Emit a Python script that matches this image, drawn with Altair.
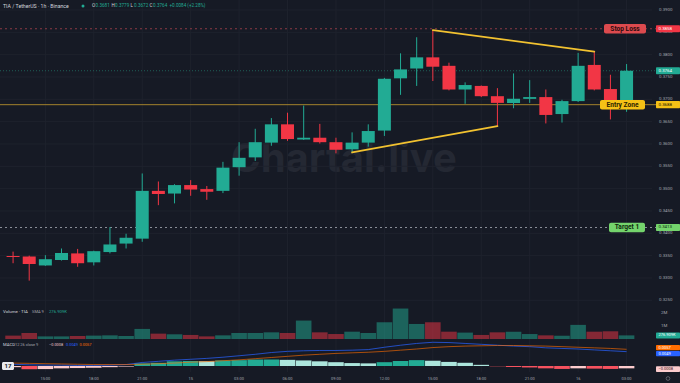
import altair as alt
import pandas as pd

# ---------------- data: TIA / TetherUS, 1h candles ----------------
hours = list(range(13, 24)) + list(range(0, 24)) + list(range(0, 4))
opens = [0.3349, 0.3348, 0.3328, 0.3340, 0.3355, 0.3335, 0.3358, 0.3377, 0.3388, 0.3495,
         0.3489, 0.3508, 0.3499, 0.3495, 0.3548, 0.3570, 0.3603, 0.3644, 0.3610, 0.3614,
         0.3604, 0.3588, 0.3603, 0.3630, 0.3747, 0.3769, 0.3794, 0.3775, 0.3722, 0.3730,
         0.3707, 0.3692, 0.3701, 0.3705, 0.3667, 0.3696, 0.3777, 0.3723, 0.3681]
highs = [0.3359, 0.3350, 0.3351, 0.3366, 0.3365, 0.3361, 0.3414, 0.3399, 0.3534, 0.3516,
         0.3510, 0.3519, 0.3506, 0.3560, 0.3604, 0.3634, 0.3658, 0.3670, 0.3686, 0.3645,
         0.3614, 0.3626, 0.3644, 0.3748, 0.3803, 0.3839, 0.3855, 0.3782, 0.3738, 0.3731,
         0.3725, 0.3758, 0.3743, 0.3722, 0.3699, 0.3804, 0.3807, 0.3755, 0.3779]
lows = [0.3333, 0.3294, 0.3327, 0.3339, 0.3325, 0.3328, 0.3355, 0.3366, 0.3381, 0.3463,
        0.3467, 0.3484, 0.3475, 0.3490, 0.3529, 0.3562, 0.3596, 0.3607, 0.3609, 0.3601,
        0.3579, 0.3581, 0.3594, 0.3618, 0.3710, 0.3730, 0.3741, 0.3720, 0.3690, 0.3705,
        0.3640, 0.3680, 0.3692, 0.3646, 0.3648, 0.3694, 0.3720, 0.3655, 0.3672]
closes = [0.3347, 0.3331, 0.3342, 0.3356, 0.3333, 0.3360, 0.3375, 0.3390, 0.3495, 0.3488,
          0.3508, 0.3498, 0.3493, 0.3547, 0.3569, 0.3604, 0.3644, 0.3611, 0.3614, 0.3604,
          0.3587, 0.3603, 0.3629, 0.3746, 0.3767, 0.3794, 0.3773, 0.3722, 0.3732, 0.3707,
          0.3692, 0.3701, 0.3705, 0.3665, 0.3696, 0.3775, 0.3722, 0.3680, 0.3764]
volumes = [260000, 460000, 200000, 200000, 230000, 260000, 280000, 230000, 770000, 410000,
           360000, 310000, 200000, 280000, 460000, 460000, 510000, 460000, 1410000, 510000,
           380000, 560000, 460000, 1280000, 2330000, 1150000, 1280000, 560000, 490000, 310000,
           510000, 560000, 380000, 280000, 250000, 1080000, 560000, 590000, 276909]
macd_line = [0.0006, 0.0004, 0.0003, 0.0003, 0.0002, 0.0002, 0.0003, 0.0005, 0.0012, 0.0016,
             0.0020, 0.0023, 0.0026, 0.0030, 0.0035, 0.0040, 0.0046, 0.0050, 0.0052, 0.0053,
             0.0053, 0.0054, 0.0056, 0.0064, 0.0071, 0.0077, 0.0081, 0.0080, 0.0077, 0.0074,
             0.0071, 0.0068, 0.0066, 0.0062, 0.0060, 0.0058, 0.0055, 0.0052, 0.0049]
signal_line = [0.0010, 0.0009, 0.0008, 0.0007, 0.0006, 0.0005, 0.0005, 0.0005, 0.0006, 0.0008,
               0.0010, 0.0013, 0.0015, 0.0018, 0.0021, 0.0025, 0.0029, 0.0033, 0.0037, 0.0040,
               0.0043, 0.0045, 0.0047, 0.0050, 0.0054, 0.0058, 0.0063, 0.0066, 0.0068, 0.0069,
               0.0070, 0.0070, 0.0069, 0.0068, 0.0066, 0.0064, 0.0062, 0.0060, 0.0057]
macd_hist = [-0.0004, -0.0011, -0.00105, -0.0008, -0.0007, -0.0006, -0.0004, -0.0002, 0.0009, 0.0011,
             0.0016, 0.0017, 0.00165, 0.0019, 0.0020, 0.0022, 0.00222, 0.0021, 0.0019, 0.0016,
             0.0013, 0.0010, 0.0009, 0.0013, 0.0017, 0.0020, 0.0018, 0.0014, 0.0011, 0.0004,
             -0.0001, -0.0003, -0.0005, -0.0008, -0.0010, -0.0008, -0.0009, -0.0010, -0.0008]

price_ticks = [0.3250, 0.3300, 0.3350, 0.3400, 0.3450, 0.3500, 0.3550, 0.3600,
               0.3650, 0.3700, 0.3750, 0.3800, 0.3850, 0.3900]
time_tick_idx = [2, 5, 8, 11, 14, 17, 20, 23, 26, 29, 32, 35, 38]
time_tick_labels = ["15:00", "18:00", "21:00", "15", "03:00", "06:00", "09:00",
                    "12:00", "15:00", "18:00", "21:00", "16", "03:00"]

stop_loss = 0.3858
entry_zone = 0.3688
target_1 = 0.3413
last_price = 0.3764

# wedge lines: (candle index, price) pairs
upper_line = [(26, 0.3855), (36, 0.3807)]
lower_line = [(21, 0.3581), (30, 0.3640)]

# ---------------- style ----------------
FONT = "Roboto"
BG = "#161a25"
GRID = "#1e222d"
UP = "#22ab94"
DOWN = "#f23645"
AX = "#a3a6af"
TXT = "#d1d4dc"
W, H = 680, 383

XS = alt.Scale(domain=[-0.5, 41.0], nice=False, zero=False)
PRICE = alt.Scale(domain=[0.325065, 0.392239], range=[300, 0], nice=False, zero=False)
VOL = alt.Scale(domain=[0, 2600000], range=[339, 305], nice=False, zero=False)
MACDS = alt.Scale(domain=[-0.00273, 0.00956], range=[374, 338], nice=False, zero=False)


def X(field="i"):
    return alt.X(f"{field}:Q", scale=XS, axis=None)


def Yp(field):
    return alt.Y(f"{field}:Q", scale=PRICE, axis=None)


n = len(opens)
candles = pd.DataFrame({
    "i": list(range(n)), "hour": hours, "open": opens, "high": highs,
    "low": lows, "close": closes, "volume": volumes,
})
candles["dir"] = ["up" if c >= o else "down" for o, c in zip(opens, closes)]
candles["body_lo"] = candles[["open", "close"]].min(axis=1)
candles["body_hi"] = candles[["open", "close"]].max(axis=1)

macd_df = pd.DataFrame({"i": list(range(n)), "macd": macd_line,
                        "signal": signal_line, "hist": macd_hist})
cats = []
for k, h in enumerate(macd_hist):
    prev = macd_hist[k - 1] if k > 0 else h
    if h >= 0:
        cats.append("pos_up" if h >= prev else "pos_dn")
    else:
        cats.append("neg_dn" if h < prev else "neg_up")
macd_df["cat"] = cats

DIR_COLOR = alt.Color("dir:N", scale=alt.Scale(domain=["up", "down"], range=[UP, DOWN]), legend=None)

ONE = pd.DataFrame({"k": [0]})


def txt(s, x, y, color, size, weight="normal", align="left", font=FONT, opacity=1.0):
    return alt.Chart(ONE).mark_text(
        text=s, align=align, baseline="middle", fontSize=size, fontWeight=weight,
        color=color, font=font, opacity=opacity,
    ).encode(x=alt.value(x), y=alt.value(y))


layers = []

# watermark
layers.append(txt("Chartal.live", 344, 160, "#242833", 40, weight="bold", align="center", font="Inter"))

# grid
vgrid = pd.DataFrame({"i": time_tick_idx})
layers.append(alt.Chart(vgrid).mark_rule(color=GRID, strokeWidth=1).encode(
    x=X(), y=alt.value(0), y2=alt.value(372)))
hgrid = pd.DataFrame({"p": price_ticks})
layers.append(alt.Chart(hgrid).mark_rule(color=GRID, strokeWidth=1).encode(
    y=Yp("p"), x=alt.value(0), x2=alt.value(652)))

# level lines
lv = lambda p: pd.DataFrame({"p": [p]})
layers.append(alt.Chart(lv(stop_loss)).mark_rule(color="#8c3a45", strokeWidth=1, strokeDash=[2, 3]).encode(
    y=Yp("p"), x=alt.value(0), x2=alt.value(656)))
layers.append(alt.Chart(lv(last_price)).mark_rule(color="#1f5d57", strokeWidth=1, strokeDash=[1, 2]).encode(
    y=Yp("p"), x=alt.value(0), x2=alt.value(656)))
layers.append(alt.Chart(lv(target_1)).mark_rule(color="#8b8f99", strokeWidth=1, strokeDash=[2, 3]).encode(
    y=Yp("p"), x=alt.value(0), x2=alt.value(656)))
layers.append(alt.Chart(lv(entry_zone)).mark_rule(color="#a3822c", strokeWidth=1).encode(
    y=Yp("p"), x=alt.value(0), x2=alt.value(656)))

# candles
layers.append(alt.Chart(candles).mark_rule(strokeWidth=1).encode(
    x=X(), y=Yp("low"), y2="high:Q", color=DIR_COLOR))
layers.append(alt.Chart(candles).mark_bar(size=13).encode(
    x=X(), y=Yp("body_lo"), y2="body_hi:Q", color=DIR_COLOR))

# wedge trend lines
for seg in (upper_line, lower_line):
    d = pd.DataFrame({"i": [seg[0][0]], "i2": [seg[1][0]], "p": [seg[0][1]], "p2": [seg[1][1]]})
    layers.append(alt.Chart(d).mark_rule(color="#f2c230", strokeWidth=1.8, strokeCap="round").encode(
        x=X(), x2="i2:Q", y=Yp("p"), y2="p2:Q"))

# volume pane
layers.append(alt.Chart(candles).mark_bar(size=15.6, opacity=0.5).encode(
    x=X(), y=alt.Y("volume:Q", scale=VOL, axis=None), y2=alt.datum(0), color=DIR_COLOR))

# MACD pane
HIST_COLOR = alt.Color("cat:N", scale=alt.Scale(
    domain=["pos_up", "pos_dn", "neg_dn", "neg_up"],
    range=["#22ab94", "#ace5dc", "#f7525f", "#fccbcd"]), legend=None)
layers.append(alt.Chart(macd_df).mark_bar(size=15.6).encode(
    x=X(), y=alt.Y("hist:Q", scale=MACDS, axis=None), y2=alt.datum(0), color=HIST_COLOR))
layers.append(alt.Chart(macd_df).mark_line(color="#2962ff", strokeWidth=0.9, opacity=0.8).encode(
    x=X(), y=alt.Y("macd:Q", scale=MACDS, axis=None)))
layers.append(alt.Chart(macd_df).mark_line(color="#ff6d00", strokeWidth=0.9, opacity=0.7).encode(
    x=X(), y=alt.Y("signal:Q", scale=MACDS, axis=None)))


# annotation boxes on the chart
def tag(price, label, x0, x1, fill, color):
    d = lv(price)
    box = alt.Chart(d).mark_rect(fill=fill, cornerRadius=2, yOffset=-4.8, y2Offset=4.8).encode(
        x=alt.value(x0), x2=alt.value(x1), y=Yp("p"), y2="p:Q")
    t = alt.Chart(d).mark_text(text=label, fontSize=6.6, fontWeight="bold", font=FONT,
                               color=color, align="center", baseline="middle").encode(
        x=alt.value((x0 + x1) / 2), y=Yp("p"))
    return [box, t]


layers += tag(stop_loss, "Stop Loss", 604, 646, "#dc4a4e", "#2a0b0d")
layers += tag(entry_zone, "Entry Zone", 600, 645, "#f5c116", "#2a2000")
layers += tag(target_1, "Target 1", 609, 645, "#74d46c", "#0d290c")

# right price axis
ptick = pd.DataFrame({"p": price_ticks, "t": [f"{v:.4f}" for v in price_ticks]})
layers.append(alt.Chart(ptick).mark_text(fontSize=4.4, font=FONT, color=AX, align="left",
                                         baseline="middle").encode(
    x=alt.value(659), y=Yp("p"), text="t:N"))


def axis_box(price, scale, fill, color, label, shift=0.0, half=3.6, size=4.4):
    d = pd.DataFrame({"p": [price]})
    yenc = alt.Y("p:Q", scale=scale, axis=None)
    box = alt.Chart(d).mark_rect(fill=fill, cornerRadius=1, yOffset=shift - half,
                                 y2Offset=shift + half).encode(
        x=alt.value(656), x2=alt.value(680), y=yenc, y2="p:Q")
    t = alt.Chart(d).mark_text(text=label, fontSize=size, font=FONT, color=color, dy=shift,
                               align="left", baseline="middle").encode(x=alt.value(658.5), y=yenc)
    return [box, t]


layers += axis_box(stop_loss, PRICE, "#f23645", "#ffffff", f"{stop_loss:.4f}")
layers += axis_box(last_price, PRICE, "#22ab94", "#ffffff", f"{last_price:.4f}")
layers += axis_box(entry_zone, PRICE, "#f5c116", "#1a1400", f"{entry_zone:.4f}")
layers += axis_box(target_1, PRICE, "#74d46c", "#0d290c", f"{target_1:.4f}")

# volume axis
vt = pd.DataFrame({"v": [1000000, 2000000], "t": ["1M", "2M"]})
layers.append(alt.Chart(vt).mark_text(fontSize=4.4, font=FONT, color=AX, align="left",
                                      baseline="middle").encode(
    x=alt.value(661), y=alt.Y("v:Q", scale=VOL, axis=None), text="t:N"))
layers += axis_box(volumes[-1], VOL, "#22ab94", "#ffffff", "276.909K", half=3.0, size=4.0)

# MACD axis (labels nudged apart so they do not collide)
layers += axis_box(signal_line[-1], MACDS, "#ff6d00", "#ffffff", f"{signal_line[-1]:.4f}",
                   shift=-1.6, half=2.6, size=4.0)
layers += axis_box(macd_line[-1], MACDS, "#2962ff", "#ffffff", f"{macd_line[-1]:.4f}",
                   shift=1.9, half=2.6, size=4.0)
layers += axis_box(macd_hist[-1], MACDS, "#fccbcd", "#3a1214", "\u22120.0008",
                   shift=0.8, half=2.8, size=4.0)

# time axis
tt = pd.DataFrame({"i": time_tick_idx, "t": time_tick_labels})
layers.append(alt.Chart(tt).mark_text(fontSize=4.0, font=FONT, color=AX, align="center",
                                      baseline="middle").encode(
    x=X(), y=alt.value(378.5), text="t:N"))
layers.append(alt.Chart(ONE).mark_point(shape="circle", filled=False, size=14, color="#8a8d96",
                                        strokeWidth=0.8).encode(x=alt.value(668), y=alt.value(378.5)))

# header
layers.append(txt("TIA / TetherUS \u00b7 1h \u00b7 Binance", 3, 6, TXT, 5.2))
layers.append(alt.Chart(ONE).mark_point(shape="circle", filled=True, size=9, color=UP, opacity=1).encode(
    x=alt.value(83), y=alt.value(6)))
ohlc_vals = [("O", opens[-1], 92), ("H", highs[-1], 111.5), ("L", lows[-1], 130.5), ("C", closes[-1], 149.5)]
for letter, v, x in ohlc_vals:
    layers.append(txt(letter, x, 6, TXT, 4.6))
    layers.append(txt(f"{v:.4f}", x + 3.6, 6, UP, 4.6))
layers.append(txt("+0.0084 (+2.28%)", 169.5, 6, UP, 4.6))

# pane titles
layers.append(txt("Volume \u00b7 TIA", 3, 312, TXT, 4.4))
layers.append(txt("SMA 9", 32, 312, AX, 4.0))
layers.append(txt("276.909K", 49, 312, UP, 4.2))
layers.append(txt("MACD", 3, 345, TXT, 4.2))
layers.append(txt("12 26 close 9", 15, 345, AX, 3.9))
layers.append(txt("\u22120.0008", 49, 345, "#f0c9cc", 3.9))
layers.append(txt("0.0049", 66, 345, "#2962ff", 3.9))
layers.append(txt("0.0057", 79.5, 345, "#ff6d00", 3.9))

# small logo badge in the lower left
layers.append(alt.Chart(ONE).mark_rect(fill="#e9eaee", cornerRadius=1.5).encode(
    x=alt.value(2), x2=alt.value(14), y=alt.value(362), y2=alt.value(370)))
layers.append(txt("17", 8, 366, "#131722", 6, weight="bold", align="center"))

chart = alt.layer(*layers).resolve_scale(y="independent", color="independent").properties(
    width=W, height=H, background=BG, padding=0,
    autosize=alt.AutoSizeParams(type="none"),
).configure_view(stroke=None, fill=BG)

chart.save("out.html", embed_options={"renderer": "svg", "actions": False})
